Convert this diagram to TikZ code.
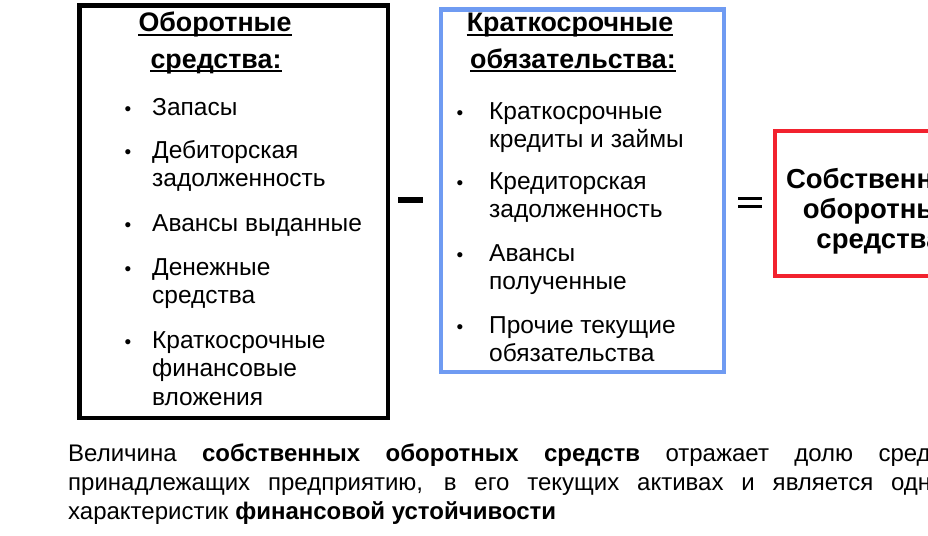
\documentclass[tikz,border=0pt]{standalone}
\usepackage{fontspec}
\setmainfont{Liberation Sans}
\usetikzlibrary{calc}
\definecolor{boxblue}{HTML}{6F9BF2}
\definecolor{boxred}{HTML}{F2222E}
\tikzset{
  frame/.style={line width=4.5pt},
  head/.style={font=\fontsize{26.8}{32}\selectfont\bfseries, anchor=base, inner sep=0pt},
  uline/.style={line width=1.8pt},
  item/.style={font=\fontsize{24.5}{29}\selectfont, anchor=base west, inner sep=0pt},
  bul/.style={font=\fontsize{19}{19}\selectfont, anchor=base, inner sep=0pt},
  total/.style={font=\fontsize{27.5}{30}\selectfont\bfseries, anchor=base, inner sep=0pt},
  note/.style={font=\fontsize{24}{29}\selectfont, anchor=base west, inner sep=0pt},
  sign/.style={draw=black, line width=6pt},
  eqbar/.style={draw=black, line width=3pt},
}

\begin{document}
\begin{tikzpicture}[x=1pt,y=-1pt]
  \useasboundingbox (0,0) rectangle (928,535);
  \clip (0,0) rectangle (928,535);

  % frames
  \draw[frame, draw=black] (79.5,5.5) rectangle (388,418);
  \draw[frame, draw=boxblue] (441,9.5) rectangle (724,372);
  \draw[frame, draw=boxred] (775,131) rectangle (983,276);

  % current assets
  \node[head] (oa1) at (215,32) {Оборотные};
  \node[head] (oa2) at (216,68) {средства:};
  \draw[uline] ([yshift=-3pt]oa1.base west) -- ([yshift=-3pt]oa1.base east);
  \draw[uline] ([yshift=-3pt]oa2.base west) -- ([yshift=-3pt]oa2.base east);

  \node[bul] (b1) at (128,115) {•};
  \node[item] (zap) at (152,115) {Запасы};
  \node[bul] (b2) at (128,158) {•};
  \node[item] (deb1) at (152,158) {Дебиторская};
  \node[item] (deb2) at (152,186.5) {задолженность};
  \node[bul] (b3) at (128,231) {•};
  \node[item] (avv) at (152,231) {Авансы выданные};
  \node[bul] (b4) at (128,275) {•};
  \node[item] (den1) at (152,275) {Денежные};
  \node[item] (den2) at (152,303.5) {средства};
  \node[bul] (b5) at (128,348) {•};
  \node[item] (fin1) at (152,348) {Краткосрочные};
  \node[item] (fin2) at (152,376.5) {финансовые};
  \node[item] (fin3) at (152,405) {вложения};

  % current liabilities
  \node[head] (ko1) at (570,32) {Краткосрочные};
  \node[head] (ko2) at (573,68) {обязательства:};
  \draw[uline] ([yshift=-3pt]ko1.base west) -- ([yshift=-3pt]ko1.base east);
  \draw[uline] ([yshift=-3pt]ko2.base west) -- ([yshift=-3pt]ko2.base east);

  \node[bul] (c1) at (460,119) {•};
  \node[item] (kr1) at (489,119) {Краткосрочные};
  \node[item] (kr2) at (489,147) {кредиты и займы};
  \node[bul] (c2) at (460,189) {•};
  \node[item] (kz1) at (489,189) {Кредиторская};
  \node[item] (kz2) at (489,217) {задолженность};
  \node[bul] (c3) at (460,261) {•};
  \node[item] (avp1) at (489,261) {Авансы};
  \node[item] (avp2) at (489,289) {полученные};
  \node[bul] (c4) at (460,333) {•};
  \node[item] (pr1) at (489,333) {Прочие текущие};
  \node[item] (pr2) at (489,361) {обязательства};

  % minus and equals
  \draw[sign] (398,200) -- (423,200);
  \draw[eqbar] (738,198.5) -- (762,198.5);
  \draw[eqbar] (738,206.5) -- (762,206.5);

  % result
  \node[total] (so1) at (879,188) {Собственные};
  \node[total] (so2) at (879,218) {оборотные};
  \node[total] (so3) at (879,248) {средства};

  % note
  \node[note] (n1) at (68,461) {\makebox[905pt][s]{Величина \textbf{собственных оборотных средств} отражает долю средств,}};
  \node[note] (n2) at (68,490) {\makebox[932pt][s]{принадлежащих предприятию, в его текущих активах и является одной из}};
  \node[note] (n3) at (68,519) {характеристик \textbf{финансовой устойчивости}};
\end{tikzpicture}
\end{document}
